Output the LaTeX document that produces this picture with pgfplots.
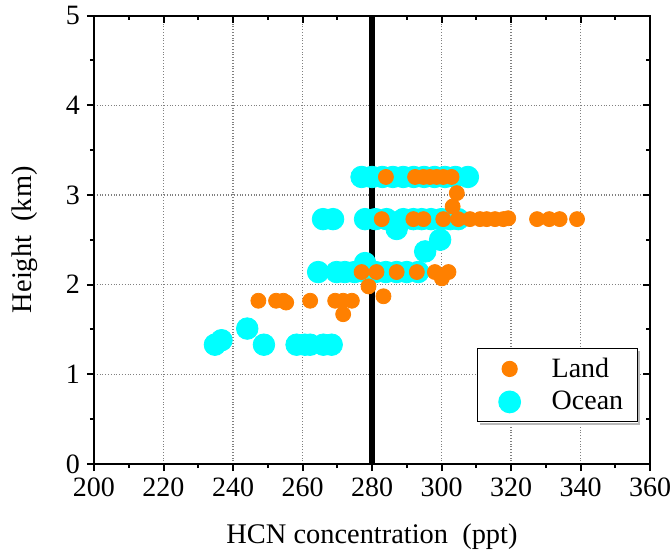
\documentclass[border=0pt]{standalone}
\usepackage{fontspec}
\setmainfont{Liberation Serif}
\usepackage{pgfplots}
\pgfplotsset{compat=1.18}

\definecolor{landc}{RGB}{255,128,0}
\definecolor{oceanc}{RGB}{0,255,255}

\begin{document}
\begin{tikzpicture}
\pgfplotsset{
  frame/.style={
    scale only axis, width=278pt, height=224.25pt,
    xmin=200, xmax=360, ymin=0, ymax=5,
    xtick={200,220,...,360}, ytick={0,1,...,5},
    minor x tick num=1, minor y tick num=1,
    major tick length=3.5pt, minor tick length=2pt,
    axis line style={line width=1pt},
    every tick/.style={black, line width=1pt},
  }
}
\begin{axis}[
  frame, name=main,
  tick align=outside, xtick pos=bottom, ytick pos=left,
  grid=major,
  major grid style={densely dotted, gray, line width=0.6pt},
  /pgf/number format/assume math mode=true,
  tick label style={font=\fontsize{14}{16}\selectfont},
  label style={font=\fontsize{14.2}{17}\selectfont},
  xlabel={HCN concentration\ \ (ppt)},
  ylabel={Height\ \ (km)},
  xlabel style={at={(axis description cs:0.5,-0.163)}, anchor=center},
  ylabel style={at={(axis description cs:-0.124,0.5)}, anchor=center},
  legend style={
    name=leg,
    at={(axis description cs:0.978,0.093)}, anchor=south east,
    draw=black, line width=0.6pt, fill=white,
    font=\fontsize{14}{17}\selectfont,
    inner xsep=5pt, inner ysep=2.5pt, row sep=1.5pt,
    /tikz/every odd column/.style={column sep=8pt},
  },
  legend cell align=left,
  legend image code/.code={
    \path[draw=none, fill=none] (-11pt,-6.5pt) rectangle (11pt,6.5pt);
    \draw[#1] plot coordinates {(0pt,0pt)};
  },
]
\addlegendimage{only marks, mark=*, mark size=3.75pt, draw=landc, fill=landc}
\addlegendentry{Land}
\addlegendimage{only marks, mark=*, mark size=5.4pt, draw=oceanc, fill=oceanc}
\addlegendentry{Ocean}

% Ocean profiles
\addplot[forget plot, only marks, mark=*, mark size=5.4pt, draw=oceanc, fill=oceanc]
coordinates {
  (234.8,1.33) (236.7,1.38) (244.1,1.51) (248.9,1.33) (258.3,1.33)
  (260.7,1.33) (262.2,1.33) (266.0,1.33) (268.4,1.33)
  (264.5,2.14) (269.8,2.14) (272.2,2.14) (275.0,2.14) (278.0,2.24)
  (278.0,2.14) (281.0,2.14) (284.0,2.14) (287.1,2.14) (290.0,2.14)
  (293.3,2.14)
  (295.3,2.37) (299.6,2.50)
  (265.9,2.73) (268.8,2.73) (278.0,2.73) (281.0,2.73) (284.2,2.73)
  (287.1,2.62) (289.0,2.73) (291.9,2.73) (294.3,2.73) (297.0,2.73)
  (300.0,2.73) (302.5,2.73) (304.8,2.73)
  (277.0,3.20) (280.0,3.20) (283.0,3.20) (286.0,3.20) (289.0,3.20)
  (292.0,3.20) (295.0,3.20) (298.0,3.20) (301.0,3.20) (304.0,3.20)
  (307.6,3.20)
};

% Land profiles
\addplot[forget plot, only marks, mark=*, mark size=3.75pt, draw=landc, fill=landc]
coordinates {
  (247.3,1.82) (252.4,1.82) (254.5,1.82) (255.3,1.80) (262.2,1.82)
  (269.4,1.82) (271.7,1.82) (274.2,1.82) (271.7,1.67)
  (279.0,1.98) (283.3,1.87)
  (277.0,2.14) (281.3,2.14) (287.1,2.14) (292.9,2.14) (298.1,2.14)
  (300.1,2.07) (302.0,2.14)
  (282.8,2.73) (291.9,2.73) (294.8,2.73) (300.5,2.73) (304.8,2.73)
  (308.2,2.73) (311.1,2.73) (313.0,2.73) (315.4,2.73) (317.8,2.73)
  (319.2,2.74) (327.5,2.73) (331.0,2.73) (334.0,2.73) (339.0,2.73)
  (303.2,2.87) (304.4,3.02)
  (284.0,3.20) (292.4,3.20) (294.8,3.20) (296.7,3.20) (298.6,3.20)
  (300.5,3.20) (302.9,3.20)
};

% Reference concentration
\addplot[forget plot, black, line width=2.9pt] coordinates {(280,0) (280,5)};
\end{axis}

% Inward ticks on the top and right edges
\begin{axis}[
  frame,
  tick align=inside, xtick pos=top, ytick pos=right,
  xticklabels={}, yticklabels={},
]
\end{axis}

% Thin shadow along the lower and right edges of the legend box
\fill[gray!55] ([xshift=1.5pt,yshift=-0.3pt]leg.south west)
  rectangle ([xshift=1.2pt,yshift=-1.2pt]leg.south east);
\fill[gray!55] ([xshift=0.3pt,yshift=-1.5pt]leg.north east)
  rectangle ([xshift=1.2pt,yshift=-1.2pt]leg.south east);

\pgfresetboundingbox
\path[use as bounding box]
  ([xshift=-47pt,yshift=-45.5pt]main.south west)
  rectangle ([xshift=10.5pt,yshift=7.75pt]main.north east);
\end{tikzpicture}
\end{document}
